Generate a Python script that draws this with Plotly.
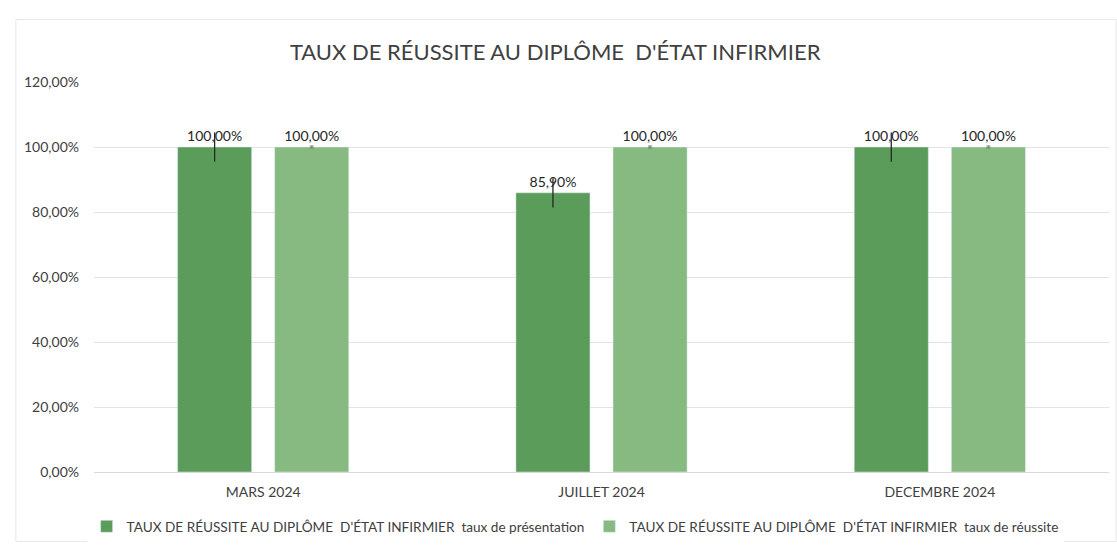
import plotly.graph_objects as go

categories = ["MARS 2024", "JUILLET 2024", "DECEMBRE 2024"]
presentation = [100.0, 85.9, 100.0]
reussite = [100.0, 100.0, 100.0]
presentation_err = [4.5, 4.5, 4.5]
reussite_err = [0.3, 0.3, 0.3]
presentation_labels = ["100,00%", "85,90%", "100,00%"]
reussite_labels = ["100,00%", "100,00%", "100,00%"]
y_ticks = [0, 20, 40, 60, 80, 100, 120]
y_tick_labels = ["0,00%", "20,00%", "40,00%", "60,00%", "80,00%", "100,00%", "120,00%"]

series1_name = "TAUX DE RÉUSSITE AU DIPLÔME  D'ÉTAT INFIRMIER  taux de présentation"
series2_name = "TAUX DE RÉUSSITE AU DIPLÔME  D'ÉTAT INFIRMIER  taux de réussite"

FONT = "Lato, Carlito, 'Open Sans', sans-serif"

fig = go.Figure()
fig.add_trace(go.Bar(
    x=categories, y=presentation, name=series1_name,
    marker=dict(color="#5b9c5b"),
    text=presentation_labels, textposition="outside", cliponaxis=False,
    textfont=dict(size=14, color="#262626", family=FONT),
    error_y=dict(type="data", array=presentation_err, visible=True,
                 color="#262626", thickness=1.3, width=0),
))
fig.add_trace(go.Bar(
    x=categories, y=reussite, name=series2_name,
    marker=dict(color="#86ba80"),
    text=reussite_labels, textposition="outside", cliponaxis=False,
    textfont=dict(size=14, color="#262626", family=FONT),
    error_y=dict(type="data", array=reussite_err, visible=True,
                 color="#777777", thickness=1, width=2),
))

fig.update_layout(
    width=1117, height=548,
    margin=dict(l=94, r=8, t=82, b=76, autoexpand=False),
    paper_bgcolor="white", plot_bgcolor="white",
    font=dict(family=FONT, size=14, color="#404040"),
    title=dict(text="TAUX DE RÉUSSITE AU DIPLÔME  D'ÉTAT INFIRMIER",
               x=0.497, xanchor="center", y=0.905, yanchor="middle",
               font=dict(size=22, color="#404040", family=FONT)),
    barmode="group", bargap=0.426, bargroupgap=0.237,
    showlegend=True,
    legend=dict(orientation="h", x=0.474, xanchor="center", y=-0.1, yanchor="top",
                font=dict(size=13.6, color="#404040", family=FONT),
                itemwidth=30, tracegroupgap=0),
)
fig.update_yaxes(range=[0, 120], tickvals=y_ticks, ticktext=y_tick_labels,
                 showgrid=True, gridcolor="#e3e3e3", gridwidth=1,
                 zeroline=True, zerolinecolor="#d9d9d9", zerolinewidth=1,
                 showline=False, ticks="", ticklen=0, ticklabelstandoff=14,
                 tickfont=dict(size=14, color="#404040"))
fig.update_xaxes(showgrid=False, showline=False, ticks="", ticklabelstandoff=10,
                 tickfont=dict(size=14, color="#404040"))

fig.add_shape(type="rect", xref="paper", yref="paper",
              x0=-0.077, x1=1.007, y0=-0.178, y1=1.16,
              line=dict(color="#e6e6e6", width=1), layer="below")

fig.write_html("out.html")
